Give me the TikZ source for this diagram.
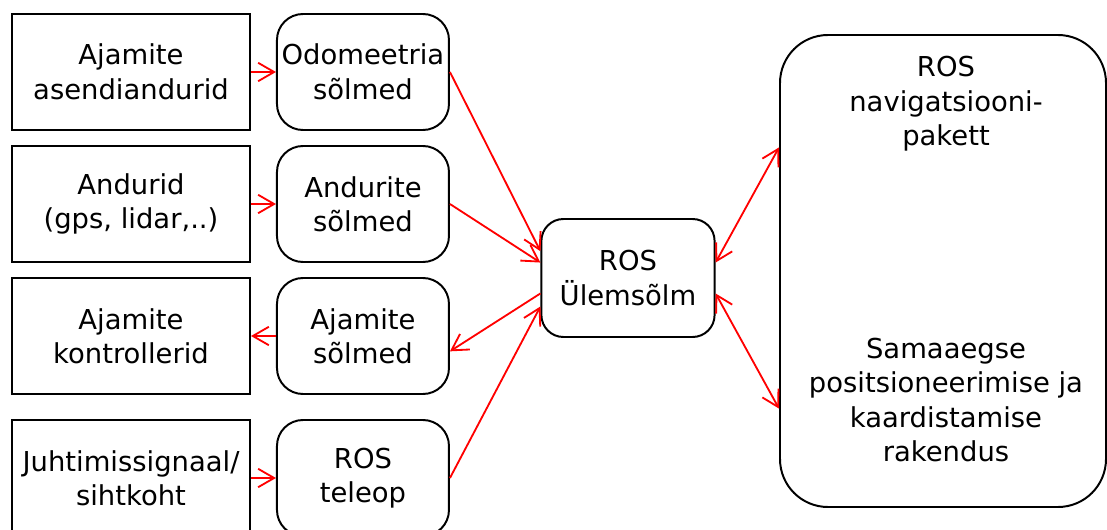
\documentclass[tikz,border=0pt]{standalone}
\usepackage{fontspec}
\setmainfont{DejaVu Sans}
\usepackage{tikz}
\usetikzlibrary{positioning,arrows.meta}

\begin{document}
\begin{tikzpicture}[
        node distance=0.4cm and 0.625cm,
        srcbox/.style={rectangle, draw, line width=1.4pt, minimum width=5.95cm, minimum height=2.9cm, align=center, inner sep=1pt},
        rosbox/.style={rectangle, rounded corners=0.65cm, draw, line width=1.4pt, minimum width=4.3cm, minimum height=2.9cm, align=center, inner sep=1pt},
        link/.style={red, line width=1.3pt},
        >={Straight Barb[length=0.4cm,width=0.46cm]},
        font=\fontsize{19.5}{24.5}\selectfont
      ]

      \useasboundingbox (0,0) rectangle (27.675,-13.25);
      \clip (0,0) rectangle (27.675,-13.25);

      % left column: hardware and inputs
      \node[srcbox] (enc) at (3.275, -1.8) {Ajamite\\asendiandurid};
      \node[srcbox] (sens) at (3.275, -5.1) {Andurid\\(gps, lidar,..)};
      \node[srcbox] (ctrl) at (3.275, -8.4) {Ajamite\\kontrollerid};
      \node[srcbox] (goal) at (3.275, -11.95) {Juhtimissignaal/\\sihtkoht};

      % ROS nodes
      \node[rosbox, right=of enc] (odom) {Odomeetria\\sõlmed};
      \node[rosbox, right=of sens] (sensnode) {Andurite\\sõlmed};
      \node[rosbox, right=of ctrl] (drive) {Ajamite\\sõlmed};
      \node[rosbox, right=of goal] (teleop) {ROS\\teleop};

      \node[rosbox, rounded corners=0.55cm, minimum width=4.33cm, minimum height=2.95cm] (master) at (15.7, -6.95) {ROS\\Ülemsõlm};

      \node[rectangle, rounded corners=1.2cm, draw, line width=1.4pt, minimum width=8.15cm, minimum height=11.8cm] (nav) at (23.575, -6.775) {};
      \node[align=center] (navtxt) at (23.65, -2.6) {ROS\\navigatsiooni-\\pakett};
      \node[align=center] (slamtxt) at (23.65, -10.0) {Samaaegse\\positsioneerimise ja\\kaardistamise\\rakendus};

      % connections
      \draw[link, ->] (enc) -- (odom);
      \draw[link, ->] (sens) -- (sensnode);
      \draw[link, ->] (drive) -- (ctrl);
      \draw[link, ->] (goal) -- (teleop);

      \draw[link, ->] (odom.east) -- (master.163);
      \draw[link, ->] (sensnode.east) -- (master.170);
      \draw[link, ->] (master.190) -- (drive.350);
      \draw[link, ->] (teleop.east) -- (master.198);

      \draw[link, <->] (master.10) -- (nav.143);
      \draw[link, <->] (master.350) -- (nav.220);

    \end{tikzpicture}
\end{document}
